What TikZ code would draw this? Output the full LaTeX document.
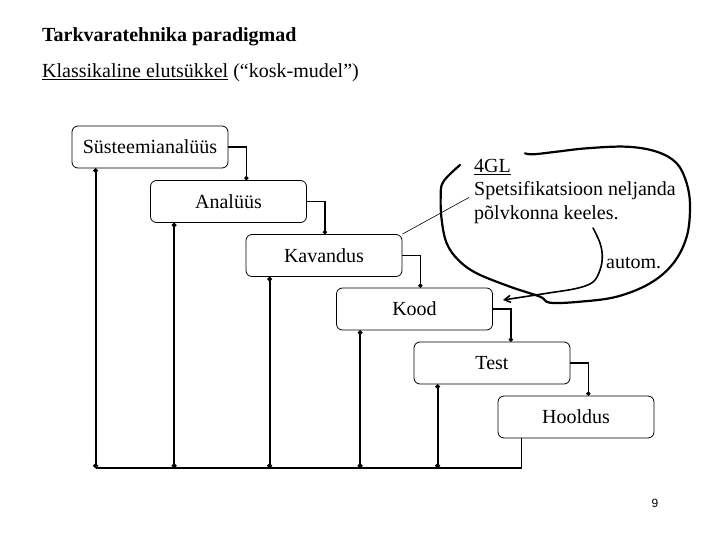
\documentclass[tikz,border=0pt]{standalone}
\usepackage{fontspec}
\setmainfont{Liberation Serif}
\newfontfamily\pagefont{Liberation Sans}
\usepackage{tikz}
\usetikzlibrary{arrows.meta, calc}

\begin{document}
\begin{tikzpicture}[x=1pt, y=-1pt,
    phase/.style={draw, rounded corners=6pt, line width=0.8pt, minimum width=156pt,
                  minimum height=42pt, inner sep=0pt, font=\fontsize{20}{24}\selectfont},
    flow/.style={-{Circle[length=4pt]}, line width=1.6pt},
    back/.style={{Circle[length=4.5pt]}-{Circle[length=4.5pt]}, line width=2pt},
    lbl/.style={font=\fontsize{20}{23.5}\selectfont, inner sep=0pt},
    pen/.style={line width=2.2pt, line cap=round, line join=round},
]
    \useasboundingbox (0,0) rectangle (720,540);

    % === headings ===
    \node[lbl, font=\fontsize{20}{24}\selectfont\bfseries, anchor=base west] (title) at (42, 41.5) {Tarkvaratehnika paradigmad};
    \node[lbl, anchor=base west] (subtitle) at (42, 77.5) {\underline{Klassikaline elutsükkel} (“kosk-mudel”)};

    % === phases ===
    \node[phase] (sys) at (150, 147) {Süsteemianalüüs};
    \node[phase] (anal) at (228.5, 201.5) {Analüüs};
    \node[phase] (kav) at (324, 255.5) {Kavandus};
    \node[phase] (kood) at (414.5, 309) {Kood};
    \node[phase] (test) at (492, 363) {Test};
    \node[phase] (hool) at (576, 417) {Hooldus};

    % forward steps
    \foreach \a/\b in {sys/anal, anal/kav, kav/kood, kood/test, test/hool}
        \draw[flow] (\a.east) -| ([xshift=18pt]\a.east |- \b.north);

    % === feedback ===
    \coordinate (floor) at (0, 468);
    \foreach \p in {sys, anal, kav, kood, test}
        \draw[back] ([xshift=24pt]\p.south west) -- ([xshift=24pt]\p.south west |- floor);
    \draw[line width=1.1pt] ([xshift=24pt]hool.south west) |- ([xshift=24pt]sys.south west |- floor);

    % === 4GL note ===
    \node[lbl, align=left, anchor=north west] (note) at (474, 159) {\underline{4GL}\\Spetsifikatsioon neljanda\\põlvkonna keeles.};
    \draw[line width=0.6pt] (kav.north east) -- ([xshift=-5pt, yshift=-6pt]note.west);
    \node[lbl, anchor=base west] (autom) at (606, 268) {autom.};

    % hand drawn loop
    \draw[pen] plot[smooth, tension=0.6] coordinates {
        (460,165) (443.3,181.7) (440.7,196.7) (441.7,220) (446.7,243.3) (458.3,260)
        (476.7,273.3) (510,286.7) (540,296.7) (550,302.7) (580,301.7) (616.7,296.7)
        (650,283.3) (673.3,263.3) (686.7,236.7) (690,206.7) (686.7,183.3) (676.7,163.3)
        (656.7,151.7) (626.7,146.7) (586.7,148.3) (556.7,151.7) (533.3,154.3) (525,153.3)};
    \coordinate (tail) at (593,228);
    \coordinate (aim) at (503,300);
    \draw[pen, line width=1.6pt, -{Straight Barb[length=6pt, width=7pt]}] plot[smooth, tension=0.6] coordinates {
        (tail) (600,243) (602.3,256.7) (600,270) (593,282) (577,288.3) (546.7,293.3) (aim)};

    \node[font=\pagefont\fontsize{12}{14}\selectfont] (pageno) at (655, 503) {9};
\end{tikzpicture}
\end{document}
